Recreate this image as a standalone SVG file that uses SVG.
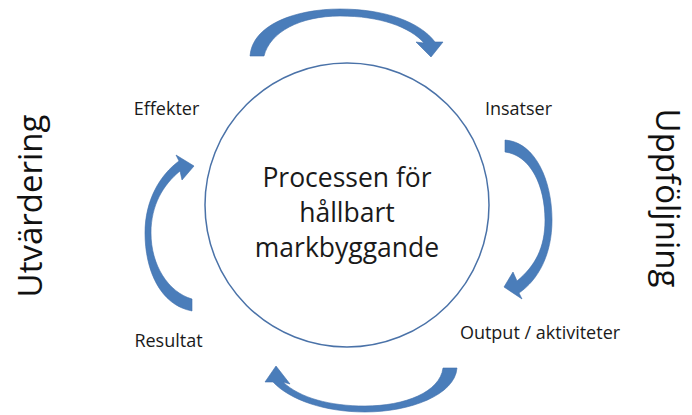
<svg xmlns="http://www.w3.org/2000/svg" width="692" height="415" viewBox="0 0 692 415">
<style>
.arrow{fill:#4a7dba;stroke:#3f6fab;stroke-width:0.6;stroke-linejoin:round}
.lbl{font-family:"Open Sans","Liberation Sans",sans-serif;font-size:18px;fill:#1a1a1a;text-anchor:middle}
.big{font-family:"Open Sans","Liberation Sans",sans-serif;font-size:33px;fill:#111;text-anchor:middle}
.ctr{font-family:"Open Sans","Liberation Sans",sans-serif;font-size:26.5px;fill:#1a1a1a;text-anchor:middle}
</style>
<rect width="692" height="415" fill="#fff"/>
<g id="center-node">
<circle cx="347" cy="205" r="142" fill="#fff" stroke="#4a72a8" stroke-width="1.5"/>
<text class="ctr" x="347" y="187">Processen för</text>
<text class="ctr" x="347" y="222">hållbart</text>
<text class="ctr" x="347" y="257">markbyggande</text>
</g>
<g id="connectors">
<path class="arrow" d="M250,56 C252,25 295,9 340,9 C385,9 420,22 435,42 L443,42 L431,57 L416,42 L424,43 C410,27 380,16 340,16 C300,16 270,32 264,56 Z"/>
<path class="arrow" d="M505,140 C535,142 552,180 552,220 C552,255 538,280 519,293 L522,299 L504,287 L513,272 L517,281 C535,266 545,248 545,220 C545,185 530,155 505,152 Z"/>
<path class="arrow" d="M457,368 C455,395 410,412 365,412 C325,412 290,400 273,382 L265,382 L276,366 L290,384 L283,382 C300,398 330,406 365,406 C405,406 440,392 443,368 Z"/>
<path class="arrow" d="M192,311 C160,305 145,270 145,233 C145,200 160,175 179,161 L176,155 L194,166 L182,180 L180,171 C163,185 151,205 151,233 C151,265 168,292 192,299 Z"/>
</g>
<g id="label-effekter"><text class="lbl" x="166.5" y="115">Effekter</text></g>
<g id="label-insatser"><text class="lbl" x="518.5" y="115">Insatser</text></g>
<g id="label-resultat"><text class="lbl" x="168.5" y="347">Resultat</text></g>
<g id="label-output"><text class="lbl" x="540" y="339">Output / aktiviteter</text></g>
<g id="label-utvardering"><text class="big" transform="translate(42,206) rotate(-90)">Utvärdering</text></g>
<g id="label-uppfoljning"><text class="big" transform="translate(656,198) rotate(90)">Uppföljning</text></g>
</svg>
